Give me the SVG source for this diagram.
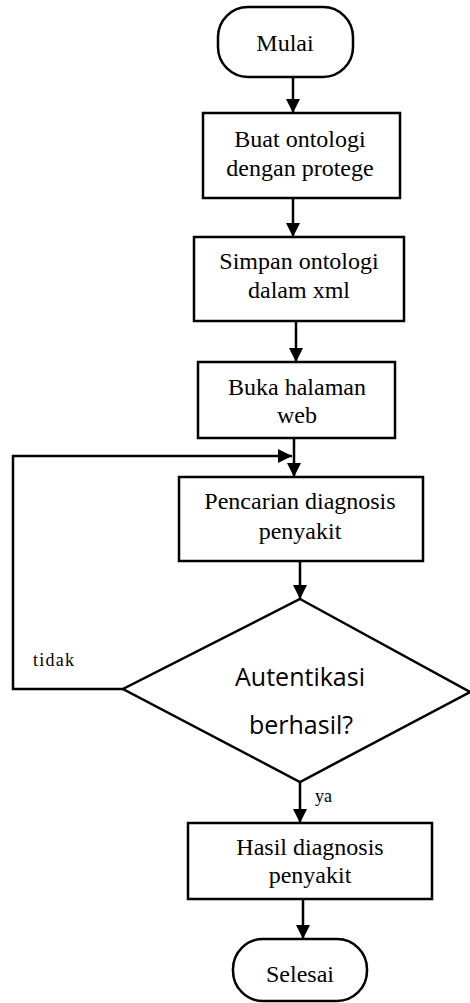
<svg xmlns="http://www.w3.org/2000/svg" width="470" height="1003" viewBox="0 0 470 1003">
<style>
.shape{fill:#fff;stroke:#000;stroke-width:2.5}
.t{font-family:"Liberation Serif","Times New Roman",serif;font-size:24px;fill:#000;text-anchor:middle}
.s{font-family:"Open Sans","Noto Sans",sans-serif;font-size:25px;fill:#000;text-anchor:middle}
.lbl{font-family:"Liberation Serif","Times New Roman",serif;font-size:18px;fill:#000}
.c{fill:none;stroke:#000;stroke-width:2.5}
</style>
<defs>
<marker id="ah" viewBox="0 0 14 14" refX="14" refY="7" markerWidth="14" markerHeight="14" markerUnits="userSpaceOnUse" orient="auto">
<path d="M0,0 L14,7 L0,14 Z" fill="#000"/>
</marker>
</defs>
<rect width="470" height="1003" fill="#fff"/>
<g id="connectors">
<line class="c" x1="293" y1="77" x2="293" y2="113" marker-end="url(#ah)"/>
<line class="c" x1="293" y1="198" x2="293" y2="237" marker-end="url(#ah)"/>
<line class="c" x1="296" y1="321" x2="296" y2="362" marker-end="url(#ah)"/>
<line class="c" x1="294" y1="438" x2="294" y2="477" marker-end="url(#ah)"/>
<polyline class="c" points="123,689 13,689 13,456 292,456" marker-end="url(#ah)"/>
<line class="c" x1="300" y1="561" x2="300" y2="599" marker-end="url(#ah)"/>
<line class="c" x1="300" y1="782" x2="300" y2="823" marker-end="url(#ah)"/>
<line class="c" x1="303" y1="899" x2="303" y2="939" marker-end="url(#ah)"/>
<text class="lbl" x="33" y="666" textLength="41">tidak</text>
<text class="lbl" x="315" y="802">ya</text>
</g>
<g id="mulai">
<rect class="shape" x="218" y="7" width="135" height="70" rx="30"/>
<text class="t" x="285" y="51">Mulai</text>
</g>
<g id="buat">
<rect class="shape" x="203" y="113" width="197" height="85"/>
<text class="t" x="300" y="147">Buat ontologi</text>
<text class="t" x="300" y="176">dengan protege</text>
</g>
<g id="simpan">
<rect class="shape" x="194" y="237" width="210" height="84"/>
<text class="t" x="299" y="269">Simpan ontologi</text>
<text class="t" x="299" y="298">dalam xml</text>
</g>
<g id="buka">
<rect class="shape" x="198" y="362" width="197" height="76"/>
<text class="t" x="297" y="395">Buka halaman</text>
<text class="t" x="297" y="423">web</text>
</g>
<g id="pencarian">
<rect class="shape" x="179" y="477" width="244" height="84"/>
<text class="t" x="300" y="509">Pencarian diagnosis</text>
<text class="t" x="300" y="539">penyakit</text>
</g>
<g id="autentikasi">
<polygon class="shape" points="300,599 470,692 300,782 123,689"/>
<text class="s" x="300" y="686">Autentikasi</text>
<text class="s" x="301" y="734">berhasil?</text>
</g>
<g id="hasil">
<rect class="shape" x="188" y="823" width="244" height="76"/>
<text class="t" x="310" y="855">Hasil diagnosis</text>
<text class="t" x="310" y="883">penyakit</text>
</g>
<g id="selesai">
<rect class="shape" x="233" y="939" width="134" height="62" rx="30"/>
<text class="t" x="300" y="982">Selesai</text>
</g>
</svg>
